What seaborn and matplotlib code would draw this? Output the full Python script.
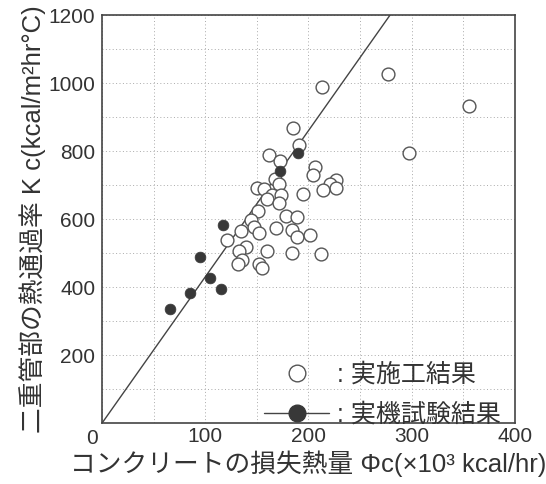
import numpy as np
import pandas as pd
import seaborn as sns
import matplotlib.pyplot as plt
from matplotlib.lines import Line2D

# 実施工結果 (open circles)
site_x = [277, 213, 356, 185, 191, 297, 162, 172, 206, 204, 168, 227, 221, 227, 214,
          150, 157, 171, 165, 173, 195, 160, 171, 151, 144, 147, 152, 135, 169, 178,
          189, 184, 189, 201, 121, 139, 133, 160, 184, 212, 136, 132, 152, 155]
site_y = [1026, 987, 932, 868, 819, 794, 787, 770, 753, 728, 718, 714, 704, 692, 686,
          692, 689, 704, 672, 672, 673, 660, 648, 624, 596, 577, 559, 564, 575, 609,
          606, 569, 547, 554, 538, 518, 506, 506, 500, 497, 479, 467, 467, 455]

# 実機試験結果 (filled circles)
test_x = [190, 172, 117, 95, 105, 85, 115, 66]
test_y = [795, 741, 581, 489, 427, 381, 394, 335]

# slope of the line through the origin
k_slope = 4.3

x_ticks = [0, 100, 200, 300, 400]
x_ticklabels = ['', '100', '200', '300', '400']
y_ticks = [0, 200, 400, 600, 800, 1000, 1200]
y_ticklabels = ['', '200', '400', '600', '800', '1000', '1200']

dfSite = pd.DataFrame({'x': site_x, 'y': site_y})
dfTest = pd.DataFrame({'x': test_x, 'y': test_y})

sns.set_style('white')
plt.rcParams['font.family'] = ['Liberation Sans', 'Noto Sans CJK JP']

fig = plt.figure(figsize=(5.46, 4.84), dpi=100)
ax = fig.add_axes([0.187, 0.126, 0.756, 0.843])

lineX = np.array([0, 400])
ax.plot(lineX, k_slope * lineX, color='#444444', lw=1.0, zorder=2)

sns.scatterplot(data=dfSite, x='x', y='y', ax=ax, s=85, facecolor='white',
                edgecolor='#555555', linewidth=1.0, zorder=3)
sns.scatterplot(data=dfTest, x='x', y='y', ax=ax, s=60, color='#383838',
                edgecolor='#383838', linewidth=0.5, zorder=4)

ax.set_xlim(0, 400)
ax.set_ylim(0, 1200)
ax.set_xticks(x_ticks)
ax.set_xticklabels(x_ticklabels)
ax.set_yticks(y_ticks)
ax.set_yticklabels(y_ticklabels)
ax.set_xticks(np.arange(0, 401, 50), minor=True)
ax.set_yticks(np.arange(0, 1201, 100), minor=True)
ax.grid(True, which='both', linestyle=(0, (1, 2.5)), color='#aaaaaa', linewidth=0.7)
ax.tick_params(which='both', length=0, labelsize=15, colors='#333333', pad=5)
ax.tick_params(axis='x', pad=3)
ax.text(-0.025, -0.015, '0', transform=ax.transAxes, fontsize=15, color='#333333',
        ha='center', va='top')

for sp in ax.spines.values():
    sp.set_color('#444444')
    sp.set_linewidth(1.2)

ax.set_xlabel('コンクリートの損失熱量 Φc(×10³ kcal/hr)', fontsize=18.5, color='#333333', labelpad=3)
ax.set_ylabel('二重管部の熱通過率 K c(kcal/m²hr°C)', fontsize=18.5, color='#333333', labelpad=2)

handles = [Line2D([], [], ls='none', marker='o', ms=12, mfc='white', mec='#555555', mew=1.0),
           Line2D([], [], ls='-', color='#444444', lw=1.0, marker='o', ms=12,
                  mfc='#383838', mec='#383838')]
ax.legend(handles, [': 実施工結果', ': 実機試験結果'], loc='lower right',
          bbox_to_anchor=(1.02, -0.065), frameon=False, fontsize=18, handlelength=2.6,
          handletextpad=0.3, labelspacing=0.65, labelcolor='#333333')

plt.savefig('out.png', dpi=100)
